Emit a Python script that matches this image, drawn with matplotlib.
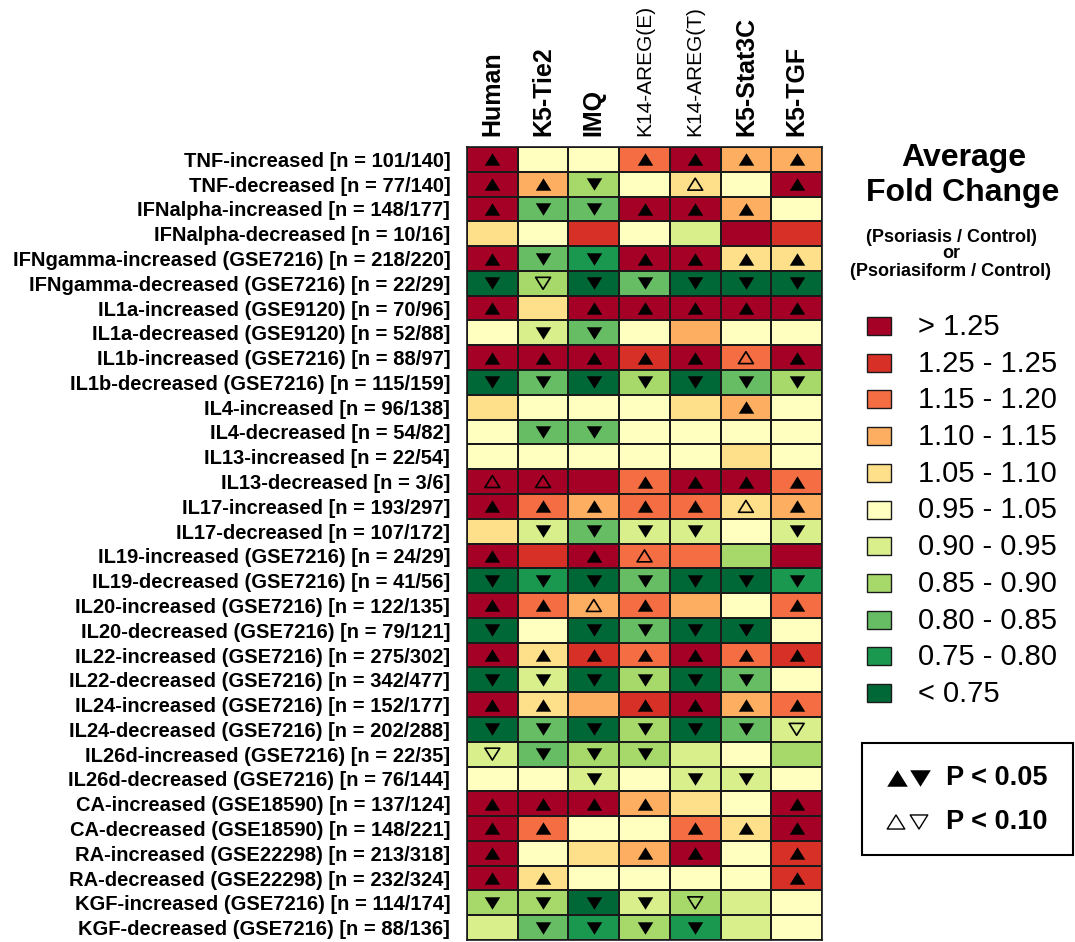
import numpy as np
import matplotlib
matplotlib.use("Agg")
import matplotlib.pyplot as plt
from matplotlib.colors import ListedColormap, BoundaryNorm
from matplotlib.patches import Rectangle
from matplotlib.path import Path

plt.rcParams['font.family'] = ['Liberation Sans', 'DejaVu Sans']

# ----- Data -----
models = ["Human", "K5-Tie2", "IMQ", "K14-AREG(E)", "K14-AREG(T)", "K5-Stat3C", "K5-TGF"]
model_bold = [True, True, True, False, False, True, True]

signatures = [
    "TNF-increased [n = 101/140]",
    "TNF-decreased [n = 77/140]",
    "IFNalpha-increased [n = 148/177]",
    "IFNalpha-decreased [n = 10/16]",
    "IFNgamma-increased (GSE7216) [n = 218/220]",
    "IFNgamma-decreased (GSE7216) [n = 22/29]",
    "IL1a-increased (GSE9120) [n = 70/96]",
    "IL1a-decreased (GSE9120) [n = 52/88]",
    "IL1b-increased (GSE7216) [n = 88/97]",
    "IL1b-decreased (GSE7216) [n = 115/159]",
    "IL4-increased [n = 96/138]",
    "IL4-decreased [n = 54/82]",
    "IL13-increased [n = 22/54]",
    "IL13-decreased [n = 3/6]",
    "IL17-increased [n = 193/297]",
    "IL17-decreased [n = 107/172]",
    "IL19-increased (GSE7216) [n = 24/29]",
    "IL19-decreased (GSE7216) [n = 41/56]",
    "IL20-increased (GSE7216) [n = 122/135]",
    "IL20-decreased (GSE7216) [n = 79/121]",
    "IL22-increased (GSE7216) [n = 275/302]",
    "IL22-decreased (GSE7216) [n = 342/477]",
    "IL24-increased (GSE7216) [n = 152/177]",
    "IL24-decreased (GSE7216) [n = 202/288]",
    "IL26d-increased (GSE7216) [n = 22/35]",
    "IL26d-decreased (GSE7216) [n = 76/144]",
    "CA-increased (GSE18590) [n = 137/124]",
    "CA-decreased (GSE18590) [n = 148/221]",
    "RA-increased (GSE22298) [n = 213/318]",
    "RA-decreased (GSE22298) [n = 232/324]",
    "KGF-increased (GSE7216) [n = 114/174]",
    "KGF-decreased (GSE7216) [n = 88/136]",
]

# average fold change (estimated from colour bins)
fold_change = [
    [1.30, 1.00, 1.00, 1.17, 1.30, 1.12, 1.12],
    [1.30, 1.12, 0.87, 1.00, 1.07, 1.00, 1.30],
    [1.30, 0.82, 0.82, 1.30, 1.30, 1.12, 1.00],
    [1.07, 1.00, 1.22, 1.00, 0.93, 1.30, 1.22],
    [1.30, 0.82, 0.77, 1.30, 1.30, 1.07, 1.07],
    [0.70, 0.87, 0.70, 0.82, 0.70, 0.70, 0.70],
    [1.30, 1.07, 1.30, 1.30, 1.30, 1.30, 1.30],
    [1.00, 0.93, 0.82, 1.00, 1.12, 1.00, 1.00],
    [1.30, 1.30, 1.30, 1.22, 1.30, 1.17, 1.30],
    [0.70, 0.82, 0.70, 0.87, 0.70, 0.82, 0.87],
    [1.07, 1.00, 1.00, 1.00, 1.07, 1.12, 1.00],
    [1.00, 0.82, 0.82, 1.00, 1.00, 1.00, 1.00],
    [1.00, 1.00, 1.00, 1.00, 1.00, 1.07, 1.00],
    [1.30, 1.30, 1.30, 1.17, 1.30, 1.30, 1.17],
    [1.30, 1.17, 1.12, 1.17, 1.17, 1.07, 1.12],
    [1.07, 0.93, 0.82, 0.93, 0.93, 1.00, 0.93],
    [1.30, 1.22, 1.30, 1.17, 1.17, 0.87, 1.30],
    [0.70, 0.77, 0.70, 0.82, 0.70, 0.70, 0.77],
    [1.30, 1.17, 1.12, 1.17, 1.12, 1.00, 1.17],
    [0.70, 1.00, 0.70, 0.82, 0.70, 0.70, 1.00],
    [1.30, 1.07, 1.22, 1.17, 1.30, 1.17, 1.22],
    [0.70, 0.93, 0.70, 0.87, 0.70, 0.82, 1.00],
    [1.30, 1.07, 1.12, 1.22, 1.30, 1.12, 1.17],
    [0.70, 0.82, 0.70, 0.87, 0.70, 0.82, 0.93],
    [0.93, 0.82, 0.87, 0.87, 0.93, 1.00, 0.87],
    [1.00, 1.00, 0.93, 1.00, 0.93, 0.93, 1.00],
    [1.30, 1.30, 1.30, 1.12, 1.07, 1.00, 1.30],
    [1.30, 1.17, 1.00, 1.00, 1.17, 1.07, 1.30],
    [1.30, 1.00, 1.07, 1.12, 1.30, 1.00, 1.22],
    [1.30, 1.07, 1.00, 1.00, 1.00, 1.00, 1.22],
    [0.87, 0.87, 0.70, 0.93, 0.87, 0.93, 1.00],
    [0.93, 0.82, 0.77, 0.87, 0.77, 0.93, 1.00],
]

# significance: U/D = up/down P<0.05, u/d = up/down P<0.10, . = none
signif = [
    "U..UUUU", "UUD.u.U", "UDDUUU.", ".......",
    "UDDUUUU", "DdDDDDD", "U.UUUUU", ".DD....",
    "UUUUUuU", "DDDDDDD", ".....U.", ".DD....",
    ".......", "uu.UUUU", "UUUUUuU", ".DDDD.D",
    "U.Uu...", "DDDDDDD", "UUuU..U", "D.DDDD.",
    "UUUUUUU", "DDDDDD.", "UU.UUUU", "DDDDDDd",
    "dDDD...", "..D.DD.", "UUUU..U", "UU..UUU",
    "U..UU.U", "UU....U", "DDDDd..", ".DDDD..",
]

bounds = [0.0, 0.75, 0.80, 0.85, 0.90, 0.95, 1.05, 1.10, 1.15, 1.20, 1.25, 5.0]
colors = ["#006837", "#1a9850", "#66bd63", "#a6d96a", "#d9ef8b", "#ffffbf",
          "#fee08b", "#fdae61", "#f46d43", "#d73027", "#a50026"]
legend_labels = ["< 0.75", "0.75 - 0.80", "0.80 - 0.85", "0.85 - 0.90", "0.90 - 0.95",
                 "0.95 - 1.05", "1.05 - 1.10", "1.10 - 1.15", "1.15 - 1.20",
                 "1.25 - 1.25", "> 1.25"]

cmap = ListedColormap(colors)
norm = BoundaryNorm(bounds, cmap.N)

# closed triangle markers
up = Path([(0, 0.8), (-1, -0.8), (1, -0.8), (0, 0.8)], closed=True)
down = Path([(0, -0.8), (-1, 0.8), (1, 0.8), (0, -0.8)], closed=True)

W, H = 1075, 942
fig = plt.figure(figsize=(W / 100, H / 100), dpi=100)

# heatmap axes (pixel box 467..822 x 147..940)
ax = fig.add_axes([467 / W, 1 - 940 / H, (822 - 467) / W, (940 - 147) / H])
data = np.array(fold_change)
nr, nc = data.shape
ax.pcolormesh(np.arange(nc + 1), np.arange(nr + 1), data, cmap=cmap, norm=norm,
              edgecolors="#1a1a1a", linewidth=1.2)
ax.set_xlim(0, nc)
ax.set_ylim(nr, 0)

for i, row in enumerate(signif):
    for j, s in enumerate(row):
        if s == ".":
            continue
        mk = up if s.lower() == "u" else down
        if s.isupper():
            ax.scatter(j + 0.5, i + 0.5, marker=mk, s=125, c="black", linewidths=0, zorder=3)
        else:
            ax.scatter(j + 0.5, i + 0.5, marker=mk, s=115, facecolors="none",
                       edgecolors="black", linewidths=1.2, zorder=3)

ax.set_yticks(np.arange(nr) + 0.5)
ax.set_yticklabels(signatures, fontsize=14.5, fontweight="bold")
ax.tick_params(axis="y", length=0, pad=12)
ax.xaxis.tick_top()
ax.set_xticks(np.arange(nc) + 0.5)
ax.set_xticklabels(models, rotation=90)
for lab, b in zip(ax.get_xticklabels(), model_bold):
    lab.set_fontweight("bold" if b else "normal")
    lab.set_fontsize(18 if b else 15)
ax.tick_params(axis="x", length=0, pad=8)
for sp in ax.spines.values():
    sp.set_linewidth(1.2)
    sp.set_color("#1a1a1a")

# legend overlay in pixel coordinates
lax = fig.add_axes([0, 0, 1, 1], zorder=-1)
lax.set_xlim(0, W)
lax.set_ylim(H, 0)
lax.axis("off")

lax.text(964, 158, "Average", ha="center", va="center", fontsize=23, fontweight="bold")
lax.text(963, 193, "Fold Change", ha="center", va="center", fontsize=23, fontweight="bold")
lax.text(951, 237, "(Psoriasis / Control)", ha="center", va="center", fontsize=13, fontweight="bold")
lax.text(951, 254, "or", ha="center", va="center", fontsize=13, fontweight="bold")
lax.text(951, 271, "(Psoriasiform / Control)", ha="center", va="center", fontsize=13, fontweight="bold")

y0, dy = 326, 36.7
for k, (col, lab) in enumerate(zip(colors[::-1], legend_labels[::-1])):
    y = y0 + k * dy
    lax.add_patch(Rectangle((867, y - 9), 24, 18, facecolor=col, edgecolor="#1a1a1a", linewidth=1.0))
    lax.text(918, y + 1, lab, ha="left", va="center", fontsize=21)

lax.add_patch(Rectangle((862, 743), 211, 112, facecolor="none", edgecolor="black", linewidth=1.5))
lax.scatter(897, 778, marker=up, s=220, c="black", linewidths=0)
lax.scatter(920, 778, marker=down, s=220, c="black", linewidths=0)
lax.scatter(896, 822, marker=up, s=160, facecolors="none", edgecolors="black", linewidths=1.0)
lax.scatter(919, 822, marker=down, s=160, facecolors="none", edgecolors="black", linewidths=1.0)
lax.text(946, 778, "P < 0.05", ha="left", va="center", fontsize=19.5, fontweight="bold")
lax.text(946, 822, "P < 0.10", ha="left", va="center", fontsize=19.5, fontweight="bold")

fig.savefig("out.png", dpi=100)
